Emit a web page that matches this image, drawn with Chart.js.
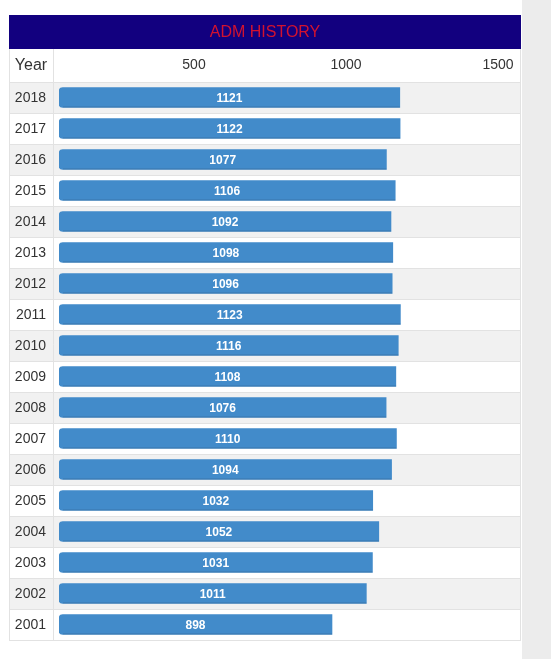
<!DOCTYPE html>
<html>
<head>
<meta charset="utf-8">
<script src="https://cdn.jsdelivr.net/npm/chart.js@4.4.1/dist/chart.umd.min.js"></script>
<style>
  body { margin: 0; background: #fff; }
  #strip { position: absolute; left: 522px; top: 0; width: 29px; height: 659px; background: #ececec; }
  #wrap { position: absolute; left: 0; top: 0; width: 551px; height: 659px; }
</style>
</head>
<body>
<div id="strip"></div>
<div id="wrap"><canvas id="Grafico" width="551" height="659"></canvas></div>
<script>
const anios = ['2018','2017','2016','2015','2014','2013','2012','2011','2010','2009','2008','2007','2006','2005','2004','2003','2002','2001'];
const valores_adm = [1121,1122,1077,1106,1092,1098,1096,1123,1116,1108,1076,1110,1094,1032,1052,1031,1011,898];
const ticks_x = [500, 1000, 1500];
const titulo = 'ADM HISTORY';
const titulo_col = 'Year';

const FONT = "'Liberation Sans', Arial, Helvetica, sans-serif";
const TABLA_IZQ = 9;
const TABLA_DER = 521;
const TABLA_TOP = 15;
const COL_DIV = 53;
const LINEA = '#e2e2e2';

// banda del titulo, filas alternadas y bordes de la tabla
const tablaPlugin = {
    id: 'tabla',
    beforeDraw(chart) {
        const ctx = chart.ctx;
        const y = chart.scales.y;
        const x = chart.scales.x;
        const paso = y.getPixelForValue(1) - y.getPixelForValue(0);

        ctx.save();
        ctx.fillStyle = '#12007f';
        ctx.fillRect(TABLA_IZQ, TABLA_TOP, TABLA_DER - TABLA_IZQ, x.top - TABLA_TOP);
        ctx.fillStyle = '#d3122f';
        ctx.font = '16px ' + FONT;
        ctx.textAlign = 'center';
        ctx.textBaseline = 'middle';
        ctx.fillText(titulo, (TABLA_IZQ + TABLA_DER) / 2, (TABLA_TOP + x.top) / 2 + 0.5);

        for (let i = 0; i < anios.length; i++) {
            const top = y.getPixelForValue(i) - paso / 2;
            if (i % 2 === 0) {
                ctx.fillStyle = '#f1f1f1';
                ctx.fillRect(TABLA_IZQ, top, TABLA_DER - TABLA_IZQ, paso);
            }
        }

        ctx.strokeStyle = LINEA;
        ctx.lineWidth = 1;
        ctx.beginPath();
        for (let i = 0; i <= anios.length; i++) {
            const yy = Math.round(y.getPixelForValue(i) - paso / 2) + 0.5;
            ctx.moveTo(TABLA_IZQ, yy);
            ctx.lineTo(TABLA_DER, yy);
        }
        ctx.moveTo(TABLA_IZQ + 0.5, x.top);
        ctx.lineTo(TABLA_IZQ + 0.5, y.bottom);
        ctx.moveTo(TABLA_DER - 0.5, x.top);
        ctx.lineTo(TABLA_DER - 0.5, y.bottom);
        ctx.moveTo(COL_DIV + 0.5, x.top);
        ctx.lineTo(COL_DIV + 0.5, y.bottom);
        ctx.stroke();

        ctx.fillStyle = '#333';
        ctx.font = '16px ' + FONT;
        ctx.fillText(titulo_col, (TABLA_IZQ + COL_DIV) / 2, (x.top + x.bottom) / 2);
        ctx.restore();
    },
    afterDatasetsDraw(chart) {
        const ctx = chart.ctx;
        const meta = chart.getDatasetMeta(0);
        ctx.save();
        meta.data.forEach((bar, i) => {
            const h = bar.height;
            ctx.fillStyle = 'rgba(0,0,0,0.15)';
            ctx.fillRect(bar.base + 4, bar.y + h / 2 - 1, bar.x - bar.base - 4, 1);
            ctx.fillStyle = '#fff';
            ctx.font = 'bold 12px ' + FONT;
            ctx.textAlign = 'center';
            ctx.textBaseline = 'middle';
            ctx.fillText(valores_adm[i], (bar.base + bar.x) / 2, bar.y + 1);
        });
        ctx.restore();
    }
};

const ctx = document.getElementById('Grafico');
new Chart(ctx, {
    type: 'bar',
    data: {
        labels: anios,
        datasets: [{
            label: titulo,
            data: valores_adm,
            backgroundColor: '#428bca',
            borderWidth: 0,
            borderSkipped: false,
            borderRadius: { topLeft: 4, bottomLeft: 4, topRight: 0, bottomRight: 0 },
            barThickness: 20
        }]
    },
    options: {
        indexAxis: 'y',
        responsive: false,
        animation: false,
        layout: { padding: { left: 9, right: 36, top: 49, bottom: 19 } },
        plugins: {
            legend: { display: false },
            tooltip: { enabled: false },
            title: { display: false }
        },
        scales: {
            x: {
                type: 'linear',
                position: 'top',
                min: 0,
                max: 1500,
                afterFit: (s) => { s.height = 33; },
                afterBuildTicks: (s) => { s.ticks = ticks_x.map(v => ({ value: v })); },
                grid: { display: false, drawTicks: false },
                border: { display: false },
                ticks: {
                    color: '#333',
                    font: { size: 14, family: FONT },
                    padding: 8,
                    labelOffset: -17,
                    maxRotation: 0,
                    callback: (v) => String(v)
                }
            },
            y: {
                afterFit: (s) => { s.width = 50; s.paddingTop = 0; s.paddingBottom = 0; },
                grid: { display: false, drawTicks: false },
                border: { display: false },
                ticks: {
                    color: '#333',
                    font: { size: 14, family: FONT },
                    padding: 13,
                    labelOffset: 1
                }
            }
        }
    },
    plugins: [tablaPlugin]
});
</script>
</body>
</html>
